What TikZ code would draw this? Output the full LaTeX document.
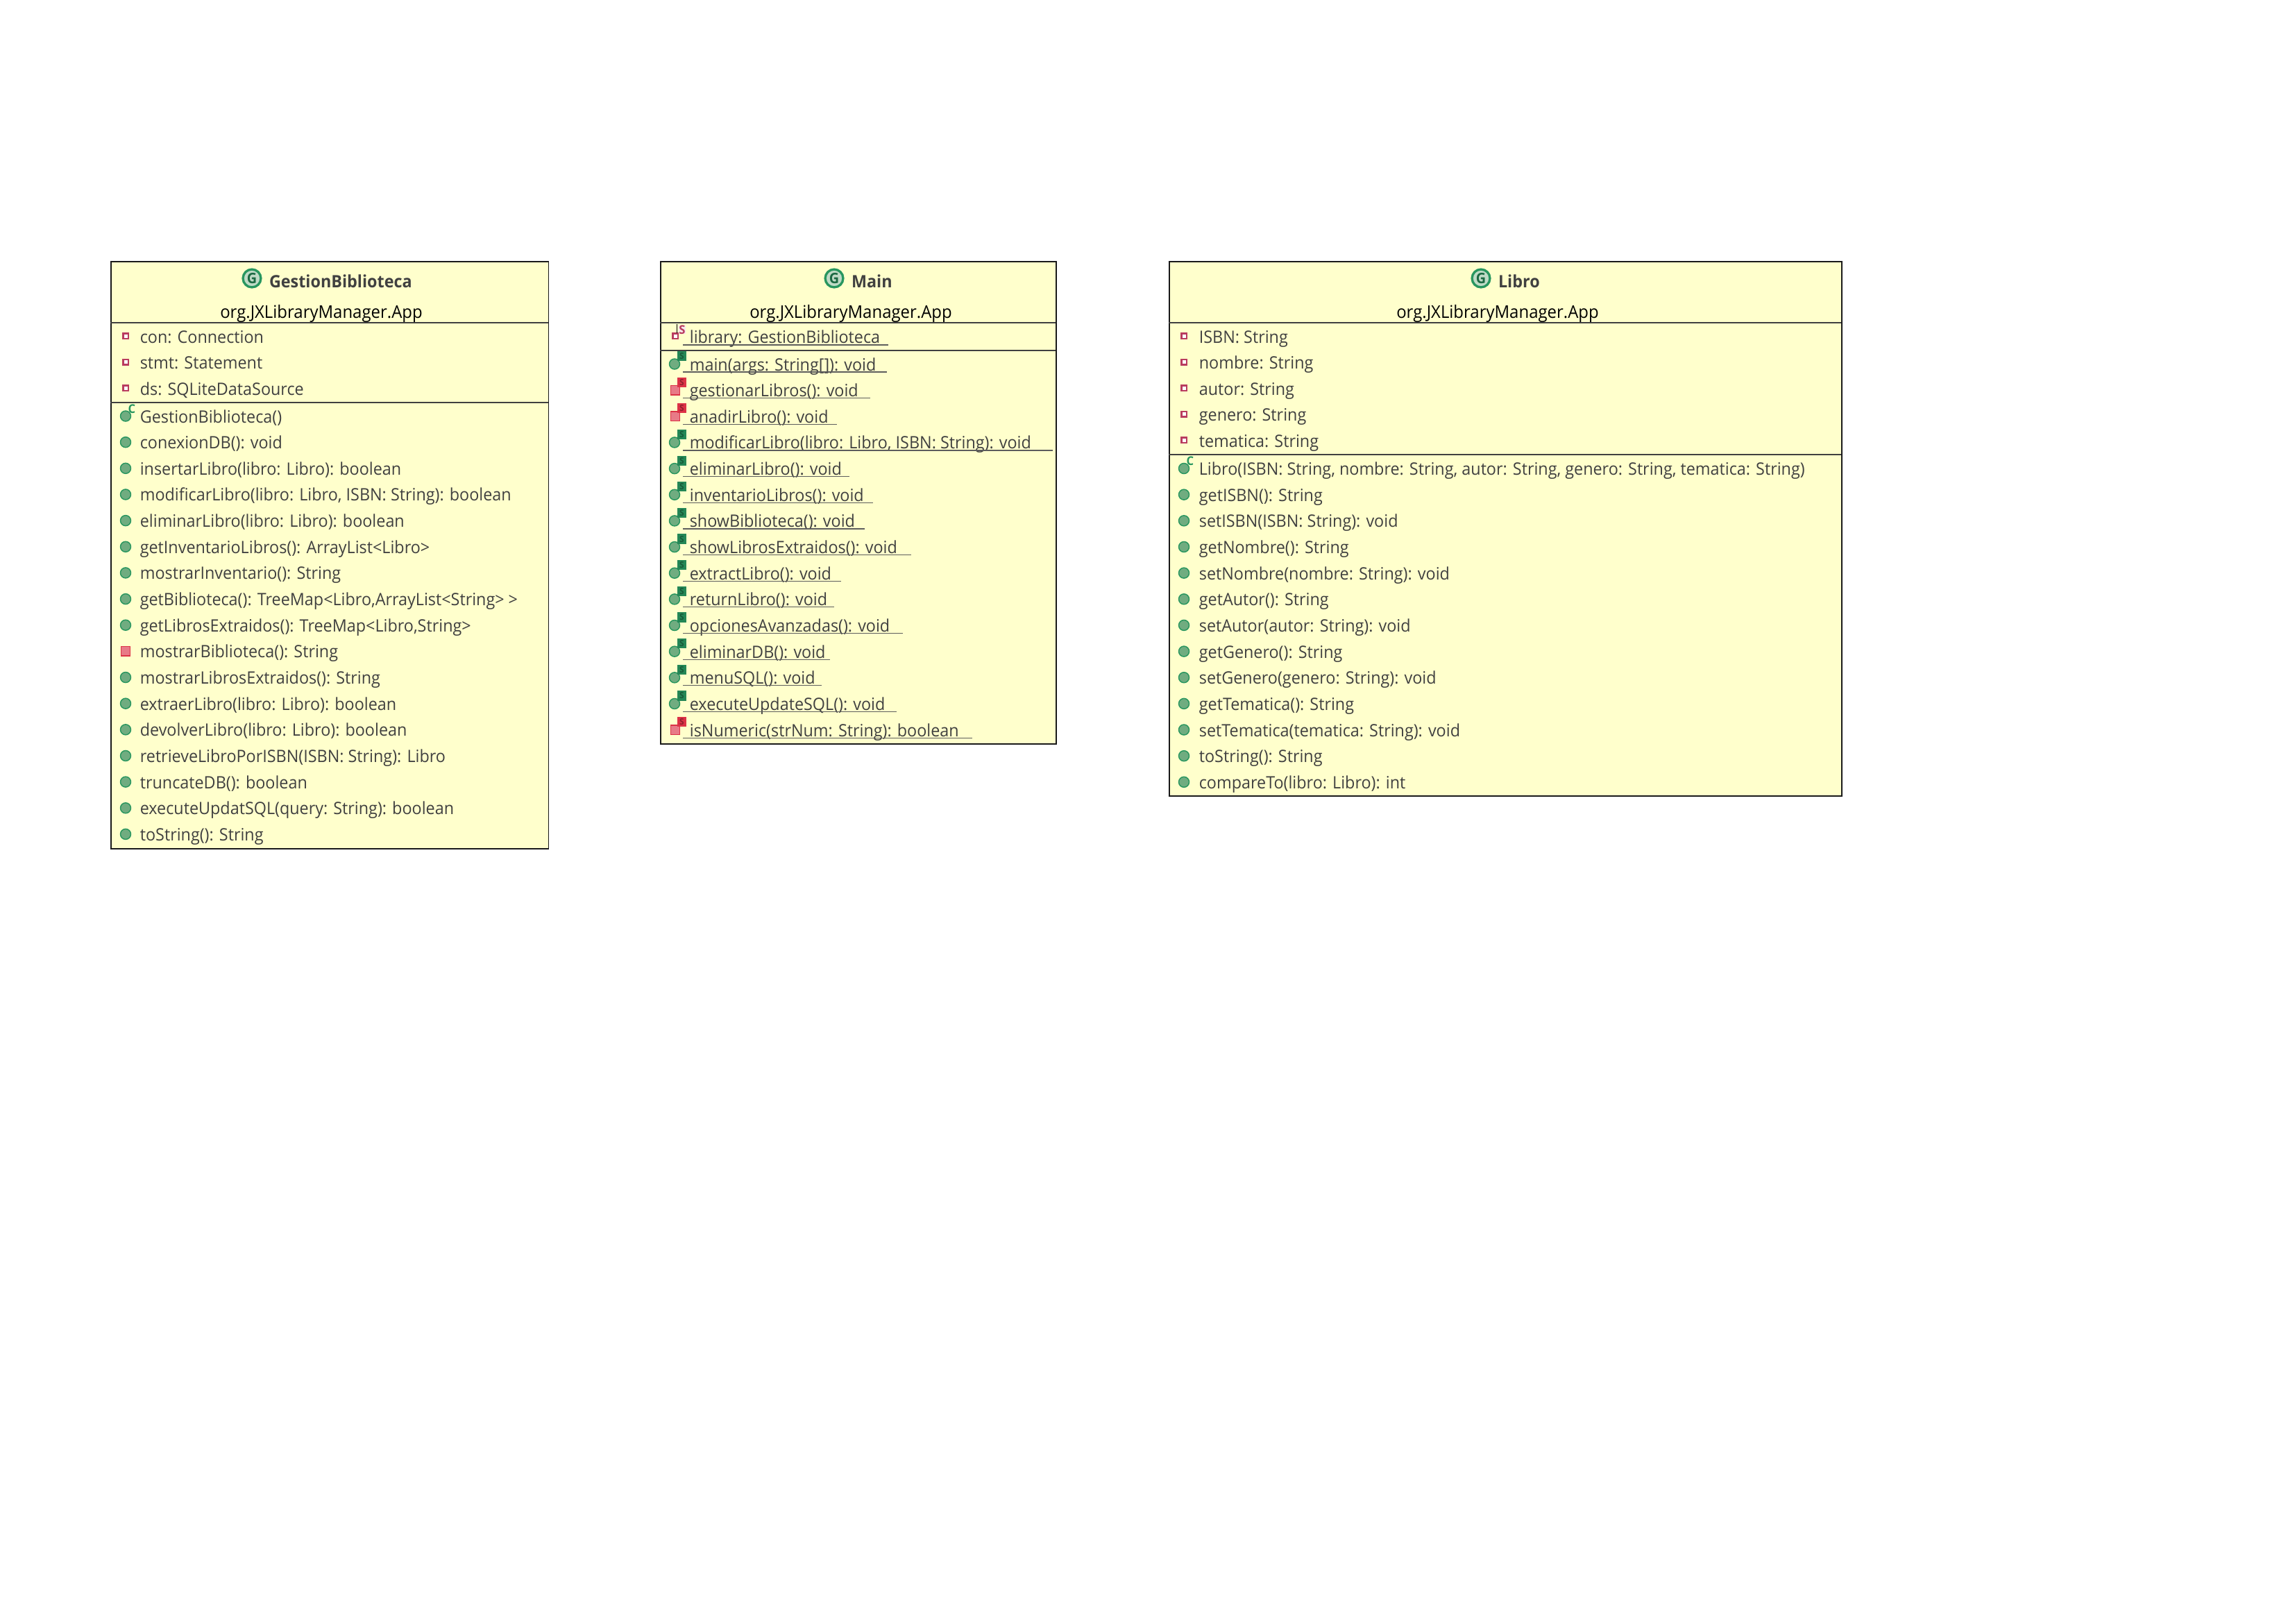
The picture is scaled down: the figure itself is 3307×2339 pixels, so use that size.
\documentclass[tikz,border=0pt]{standalone}
\usepackage{fontspec}
\usepackage{tikz}
\setmainfont{Open Sans}[FakeStretch=0.95]
\definecolor{boxyellow}{RGB}{255,255,204}
\definecolor{textgrey}{RGB}{64,64,64}
\definecolor{pubgreen}{RGB}{40,150,95}
\definecolor{dotgreen}{RGB}{112,172,128}
\definecolor{privred}{RGB}{220,50,70}
\definecolor{fieldred}{RGB}{185,60,95}
\newcommand{\rowfont}{\fontsize{5.9pt}{7pt}\selectfont}
\begin{document}
\begin{tikzpicture}[x=0.24pt,y=-0.24pt,
                    class_box/.style={rectangle, draw=black!90, fill=boxyellow, line width=0.4pt, inner sep=0pt},
                    class_title/.style={font=\rowfont\bfseries, text=textgrey, anchor=west, inner sep=0pt},
                    class_pkg/.style={font=\fontsize{6.05pt}{7pt}\selectfont, text=black, anchor=center, inner sep=0pt},
                    row_text/.style={font=\rowfont, text=textgrey, anchor=base west, inner sep=0pt},
                    sep_line/.style={draw=black!75, line width=0.28pt},
                    under_line/.style={draw=textgrey!85, line width=0.28pt},
                    pub_dot/.style={circle, draw=pubgreen, fill=dotgreen, line width=0.35pt, minimum size=3.6pt, inner sep=0pt},
                    priv_square/.style={rectangle, draw=privred, fill=privred!65!white, line width=0.35pt, minimum size=3.2pt, inner sep=0pt},
                    field_square/.style={rectangle, draw=fieldred, fill=white, line width=0.6pt, minimum size=1.8pt, inner sep=0pt},
                    class_icon/.style={circle, draw=pubgreen, fill=dotgreen!45!white, line width=0.8pt, minimum size=6.2pt, inner sep=0pt, font=\fontsize{5pt}{5pt}\selectfont\bfseries, text=pubgreen!70!black},
                    tag_mark/.style={font=\fontsize{4.2pt}{4pt}\selectfont\bfseries, inner sep=0pt},
                    s_green/.style={rectangle, fill=pubgreen!90!black, text=pubgreen!60!black, minimum width=3pt, minimum height=3.4pt, inner sep=0pt, font=\fontsize{3pt}{3pt}\selectfont\bfseries},
                    s_red/.style={rectangle, fill=privred, text=privred!65!black, minimum width=3pt, minimum height=3.4pt, inner sep=0pt, font=\fontsize{3pt}{3pt}\selectfont\bfseries}
                ]
    \useasboundingbox (0,0) rectangle (3307,2339);
    % GestionBiblioteca
    \node[class_box, minimum width=151.4pt, minimum height=203pt, anchor=north west] (gestion) at (159,376) {};
    \node[class_icon] (gestionicon) at (363,401) {G};
    \node[class_title, right=2.3pt, yshift=-1pt] (gestiontitle) at (gestionicon.east) {GestionBiblioteca};
    \node[class_pkg] (gestionpkg) at (463,452) {org.JXLibraryManager.App};
    \coordinate (gestionline1) at (159,465);
    \coordinate (gestionline1e) at (790,465);
    \coordinate (gestionline2) at (159,580);
    \coordinate (gestionline2e) at (790,580);
    \draw[sep_line] (gestionline1) -- (gestionline1e);
    \draw[sep_line] (gestionline2) -- (gestionline2e);
    \foreach \txt [count=\i] in {{con: Connection}, {stmt: Statement}, {ds: SQLiteDataSource}}
    {
        \node[field_square] (gf\i) at (181,{484+37.6*(\i-1)}) {};
        \node[row_text] (gft\i) at (201,{494+37.6*(\i-1)}) {\txt};
    }
    \foreach \txt [count=\i] in {
        {GestionBiblioteca()}, {conexionDB(): void}, {insertarLibro(libro: Libro): boolean},
        {modificarLibro(libro: Libro, ISBN: String): boolean}, {eliminarLibro(libro: Libro): boolean},
        {getInventarioLibros(): ArrayList<Libro>}, {mostrarInventario(): String},
        {getBiblioteca(): TreeMap<Libro,ArrayList<String>\hspace{1.4pt}>}, {getLibrosExtraidos(): TreeMap<Libro,String>},
        {mostrarBiblioteca(): String}, {mostrarLibrosExtraidos(): String}, {extraerLibro(libro: Libro): boolean},
        {devolverLibro(libro: Libro): boolean}, {retrieveLibroPorISBN(ISBN: String): Libro},
        {truncateDB(): boolean}, {executeUpdatSQL(query: String): boolean}, {toString(): String}}
    {
        \ifnum\i=10
            \node[priv_square] (gm\i) at (181,{599.5+37.65*(\i-1)}) {};
        \else
            \node[pub_dot] (gm\i) at (181,{599.5+37.65*(\i-1)}) {};
        \fi
        \node[row_text] (gmt\i) at (201,{609+37.65*(\i-1)}) {\txt};
    }
    \node[tag_mark, text=pubgreen] (gc) at (190,589) {C};
    % Main
    \node[class_box, minimum width=136.8pt, minimum height=166.8pt, anchor=north west] (main) at (951,376) {};
    \node[class_icon] (mainicon) at (1202,401) {G};
    \node[class_title, right=2.3pt, yshift=-1pt] (maintitle) at (mainicon.east) {Main};
    \node[class_pkg] (mainpkg) at (1226,452) {org.JXLibraryManager.App};
    \coordinate (mainline1) at (951,465);
    \coordinate (mainline1e) at (1521,465);
    \coordinate (mainline2) at (951,505);
    \coordinate (mainline2e) at (1521,505);
    \draw[sep_line] (mainline1) -- (mainline1e);
    \draw[sep_line] (mainline2) -- (mainline2e);
    \node[field_square] (mf) at (973,484) {};
    \node[tag_mark, text=fieldred, fill=fieldred!12!white] (mfs) at (983,475) {S};
    \coordinate (mfta) at (975.5,467);
    \coordinate (mftb) at (975.5,480);
    \draw[black, line width=0.25pt] (mfta) -- (mftb);
    \node[row_text] (mft) at (993,494) {library: GestionBiblioteca};
    \coordinate (mfa) at (984,497);
    \coordinate (mfb) at (1280,497);
    \draw[under_line] (mfa) -- (mfb);
    \foreach \txt/\len/\kind [count=\i] in {
        {main(args: String[]): void}/294/p, {gestionarLibros(): void}/270/r, {anadirLibro(): void}/222/r,
        {modificarLibro(libro: Libro, ISBN: String): void}/533/p, {eliminarLibro(): void}/240/p,
        {inventarioLibros(): void}/274/p, {showBiblioteca(): void}/262/p, {showLibrosExtraidos(): void}/329/p,
        {extractLibro(): void}/228/p, {returnLibro(): void}/218/p, {opcionesAvanzadas(): void}/317/p,
        {eliminarDB(): void}/212/p, {menuSQL(): void}/200/p, {executeUpdateSQL(): void}/308/p,
        {isNumeric(strNum: String): boolean}/417/r}
    {
        \pgfmathsetmacro{\rowy}{524.5+37.65*(\i-1)}
        \if\kind p
            \node[pub_dot] (mm\i) at (972,\rowy) {};
            \node[s_green] (ms\i) at (982.5,\rowy-11.5) {S};
        \else
            \node[priv_square] (mm\i) at (973,\rowy) {};
            \node[s_red] (ms\i) at (982.5,\rowy-11.5) {S};
        \fi
        \node[row_text] (mmt\i) at (993,\rowy+9.5) {\txt};
        \coordinate (mua\i) at (984,\rowy+11.5);
        \coordinate (mub\i) at (984+\len,\rowy+11.5);
        \draw[under_line] (mua\i) -- (mub\i);
    }
    % Libro
    \node[class_box, minimum width=232.6pt, minimum height=184.8pt, anchor=north west] (libro) at (1684,376) {};
    \node[class_icon] (libroicon) at (2134,401) {G};
    \node[class_title, right=2.3pt, yshift=-1pt] (librotitle) at (libroicon.east) {Libro};
    \node[class_pkg] (libropkg) at (2158,452) {org.JXLibraryManager.App};
    \coordinate (libroline1) at (1684,465);
    \coordinate (libroline1e) at (2653,465);
    \coordinate (libroline2) at (1684,655);
    \coordinate (libroline2e) at (2653,655);
    \draw[sep_line] (libroline1) -- (libroline1e);
    \draw[sep_line] (libroline2) -- (libroline2e);
    \foreach \txt [count=\i] in {{ISBN: String}, {nombre: String}, {autor: String}, {genero: String}, {tematica: String}}
    {
        \node[field_square] (lf\i) at (1706,{484+37.6*(\i-1)}) {};
        \node[row_text] (lft\i) at (1727,{494+37.6*(\i-1)}) {\txt};
    }
    \foreach \txt [count=\i] in {
        {Libro(ISBN: String, nombre: String, autor: String, genero: String, tematica: String)},
        {getISBN(): String}, {setISBN(ISBN: String): void}, {getNombre(): String}, {setNombre(nombre: String): void},
        {getAutor(): String}, {setAutor(autor: String): void}, {getGenero(): String}, {setGenero(genero: String): void},
        {getTematica(): String}, {setTematica(tematica: String): void}, {toString(): String}, {compareTo(libro: Libro): int}}
    {
        \node[pub_dot] (lm\i) at (1706,{675+37.65*(\i-1)}) {};
        \node[row_text] (lmt\i) at (1727,{684.5+37.65*(\i-1)}) {\txt};
    }
    \node[tag_mark, text=pubgreen] (lc) at (1715,664) {C};
\end{tikzpicture}
\end{document}
